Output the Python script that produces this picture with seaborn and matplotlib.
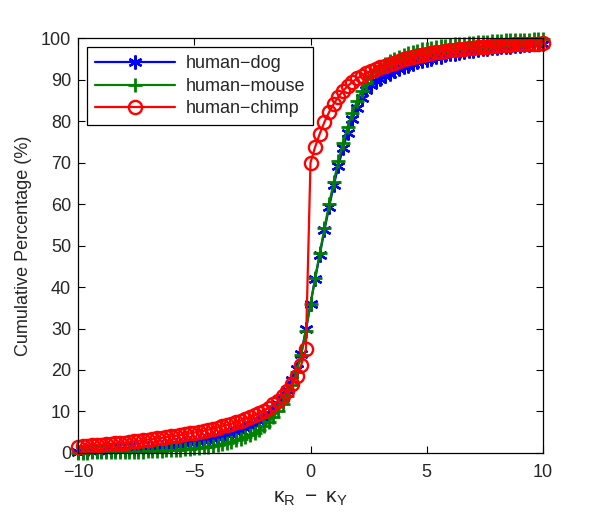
import numpy as np
import pandas as pd
import matplotlib
matplotlib.use("Agg")
import matplotlib.pyplot as plt
import seaborn as sns

# sampling grid of kappa_R - kappa_Y (step 0.2 from -10 to 10)
kappa_diff = np.round(np.linspace(-10, 10, 101), 1)

human_dog = [
    0.3, 0.3, 0.4, 0.4, 0.5, 0.5, 0.6, 0.6, 0.7, 0.7,
    0.8, 0.9, 1.0, 1.0, 1.1, 1.2, 1.3, 1.4, 1.5, 1.6,
    1.7, 1.9, 2.0, 2.2, 2.3, 2.5, 2.7, 2.9, 3.1, 3.4,
    3.6, 3.9, 4.2, 4.6, 5.0, 5.4, 5.9, 6.4, 7.0, 7.7,
    8.5, 9.4, 10.5, 11.8, 13.3, 15.2, 17.5, 20.3, 23.8, 29.8,
    36.0, 42.0, 47.8, 53.7, 59.3, 64.5, 69.3, 73.5, 77.2, 80.5,
    83.2, 85.5, 87.5, 88.8, 89.6, 90.2, 90.8, 91.4, 92.0, 92.5,
    93.0, 93.4, 93.8, 94.2, 94.5, 94.8, 95.1, 95.4, 95.6, 95.9,
    96.1, 96.3, 96.5, 96.7, 96.9, 97.0, 97.2, 97.3, 97.5, 97.6,
    97.7, 97.8, 97.9, 98.0, 98.1, 98.2, 98.3, 98.4, 98.5, 98.6,
    98.7,
]

human_mouse = [
    0.0, 0.0, 0.0, 0.1, 0.1, 0.1, 0.1, 0.1, 0.2, 0.2,
    0.2, 0.2, 0.3, 0.3, 0.3, 0.4, 0.4, 0.5, 0.5, 0.6,
    0.7, 0.7, 0.8, 0.9, 1.0, 1.1, 1.2, 1.4, 1.5, 1.7,
    1.9, 2.1, 2.4, 2.7, 3.0, 3.4, 3.8, 4.3, 4.9, 5.6,
    6.4, 7.4, 8.6, 10.0, 11.7, 13.8, 16.4, 19.6, 23.6, 29.5,
    35.8, 42.2, 48.2, 54.2, 60.0, 65.4, 70.4, 74.8, 78.7, 82.0,
    84.9, 87.3, 89.2, 90.8, 92.0, 93.0, 93.8, 94.5, 95.1, 95.6,
    96.0, 96.4, 96.7, 97.0, 97.3, 97.5, 97.7, 97.9, 98.1, 98.2,
    98.4, 98.5, 98.6, 98.7, 98.8, 98.9, 99.0, 99.1, 99.2, 99.3,
    99.3, 99.4, 99.5, 99.5, 99.6, 99.6, 99.7, 99.7, 99.8, 99.8,
    99.9,
]

human_chimp = [
    1.5, 1.6, 1.7, 1.8, 1.9, 2.0, 2.1, 2.2, 2.3, 2.4,
    2.5, 2.6, 2.8, 2.9, 3.0, 3.2, 3.3, 3.5, 3.6, 3.8,
    4.0, 4.1, 4.3, 4.5, 4.7, 4.9, 5.1, 5.3, 5.6, 5.8,
    6.1, 6.4, 6.7, 7.0, 7.4, 7.8, 8.2, 8.6, 9.1, 9.6,
    10.2, 10.9, 11.7, 12.6, 13.7, 15.0, 16.6, 18.6, 21.2, 25.0,
    70.0, 73.8, 77.0, 79.8, 82.2, 84.2, 85.9, 87.3, 88.5, 89.5,
    90.3, 91.0, 91.6, 92.1, 92.6, 93.0, 93.4, 93.8, 94.1, 94.5,
    94.9, 95.2, 95.5, 95.8, 96.0, 96.2, 96.4, 96.6, 96.8, 96.9,
    97.1, 97.2, 97.4, 97.5, 97.6, 97.7, 97.8, 97.9, 98.0, 98.1,
    98.2, 98.3, 98.3, 98.4, 98.5, 98.5, 98.6, 98.6, 98.7, 98.7,
    98.8,
]

series_names = ["human-dog", "human-mouse", "human-chimp"]
legend_labels = ["human\u2212dog", "human\u2212mouse", "human\u2212chimp"]
x_ticks = [-10, -5, 0, 5, 10]
y_ticks = [0, 10, 20, 30, 40, 50, 60, 70, 80, 90, 100]

df = pd.DataFrame({
    "x": np.tile(kappa_diff, 3),
    "y": np.concatenate([human_dog, human_mouse, human_chimp]),
    "pair": np.repeat(series_names, len(kappa_diff)),
})

sns.set_style("ticks")
plt.rcParams["font.family"] = ["Liberation Sans", "DejaVu Sans"]
plt.rcParams["mathtext.fontset"] = "custom"
plt.rcParams["mathtext.rm"] = "Liberation Sans"
plt.rcParams["mathtext.it"] = "Liberation Sans"

fig = plt.figure(figsize=(6.0, 5.17), dpi=100)
ax = fig.add_axes([0.13, 0.124, 0.775, 0.802])

styles = {
    "human-dog": dict(color="#0000ff", marker=(6, 2, 0), markersize=10,
                      markeredgewidth=1.7, markeredgecolor="#0000ff",
                      markerfacecolor="#0000ff"),
    "human-mouse": dict(color="#008000", marker="+", markersize=10.5,
                        markeredgewidth=2.0, markeredgecolor="#008000"),
    "human-chimp": dict(color="#ff0000", marker="o", markersize=9.5,
                        markeredgewidth=1.7, markeredgecolor="#ff0000",
                        markerfacecolor="none"),
}

for name, lab in zip(series_names, legend_labels):
    sub = df[df["pair"] == name]
    sns.lineplot(data=sub, x="x", y="y", ax=ax, label=lab,
                 linewidth=1.6, clip_on=False, **styles[name])

ax.set_xlim(-10, 10)
ax.set_ylim(0, 100)
ax.set_xticks(x_ticks)
ax.set_xticklabels([str(t).replace("-", "\u2212") for t in x_ticks])
ax.set_yticks(y_ticks)
ax.tick_params(direction="in", top=True, right=True, length=5,
               width=0.8, labelsize=13, color="black")
ax.tick_params(axis="x", pad=8)
ax.tick_params(axis="y", pad=5)
for s in ax.spines.values():
    s.set_color("black")
    s.set_linewidth(0.9)

ax.set_xlabel(r"$\mathregular{\kappa_R\ -\ \kappa_Y}$", fontsize=15, labelpad=6)
ax.set_ylabel("Cumulative Percentage (%)", fontsize=13, labelpad=6)

leg = ax.legend(loc="upper left", fontsize=13, frameon=True, fancybox=False,
                edgecolor="black", framealpha=1, borderaxespad=0.5,
                handlelength=4.4, labelspacing=0.3, borderpad=0.45,
                handletextpad=0.6)
leg.get_frame().set_linewidth(0.9)

fig.savefig("out.png", dpi=100)
